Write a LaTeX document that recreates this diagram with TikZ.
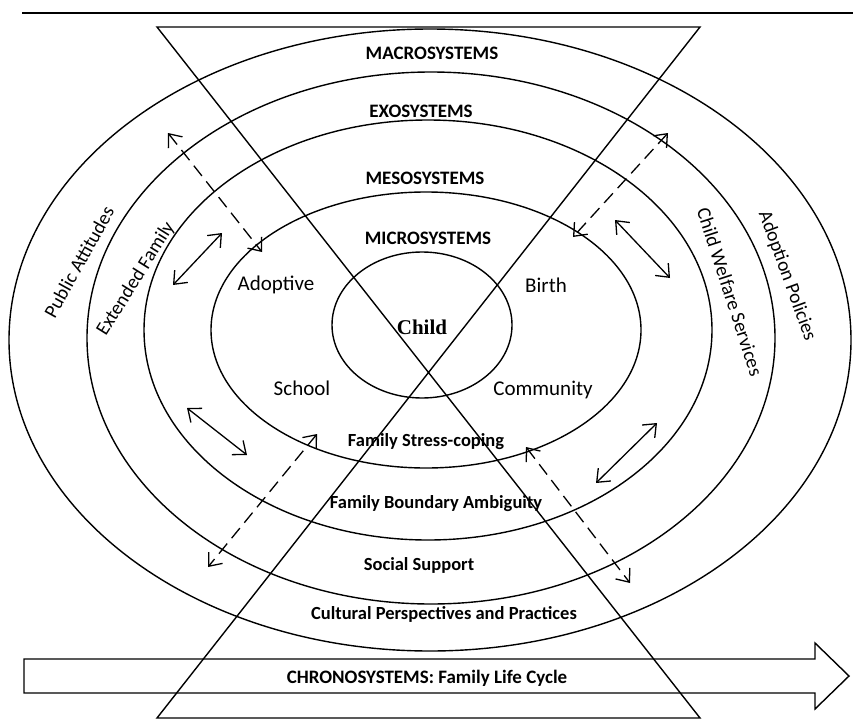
\documentclass[tikz,border=0pt]{standalone}
\usepackage{fontspec}
\setmainfont{Carlito}
\newfontfamily\childfont{Liberation Serif}
\usetikzlibrary{arrows.meta,shapes}

\begin{document}
\begin{tikzpicture}
[x=1pt, y=-1pt, line width=1.4pt, >={Straight Barb[length=11pt,width=18pt]},
ring/.style={draw, ellipse, inner sep=0pt, outer sep=0pt},
sysname/.style={font=\bfseries\fontsize{19}{21}\selectfont},
layer/.style={font=\bfseries\fontsize{18.5}{20}\selectfont},
place/.style={font=\fontsize{21}{24}\selectfont},
side/.style={font=\fontsize{19.5}{22}\selectfont},
link/.style={<->, line width=1.3pt},
dashlink/.style={<->, line width=1.3pt, dash pattern=on 13pt off 7pt}
]
  \useasboundingbox (0,0) rectangle (853,725);
  \fill[white] (0,0) rectangle (853,725);
  \coordinate (ruleL) at (22,13);
  \coordinate (ruleR) at (853,13);
  \draw[line width=1.8pt] (ruleL) -- (ruleR);

  % system rings
  \node[ring, minimum width=842pt, minimum height=622pt] (macro) at (430,340) {};
  \node[ring, minimum width=688pt, minimum height=532pt] (exo)   at (431,338) {};
  \node[ring, minimum width=568pt, minimum height=420pt] (meso)  at (428,330) {};
  \node[ring, minimum width=430pt, minimum height=276pt] (micro) at (426,330) {};
  \node[ring, minimum width=180pt, minimum height=146pt] (child) at (422,325) {};

  % hourglass
  \coordinate (hTL) at (157,27);
  \coordinate (hTR) at (700,27);
  \coordinate (hBL) at (157,718);
  \coordinate (hBR) at (700,718);
  \draw (hTL) -- (hTR) -- (hBL) -- (hBR) -- cycle;

  % time arrow
  \draw (24,659) -- (815,659) -- (815,643) -- (849,676) -- (815,709) -- (815,693) -- (24,693) -- cycle;
  \node[sysname] (chrono) at (427,678) {CHRONOSYSTEMS: Family Life Cycle};

  \node[sysname] (macroname) at (432,53)  {MACROSYSTEMS};
  \node[sysname] (exoname)   at (421,111) {EXOSYSTEMS};
  \node[sysname] (mesoname)  at (425,178) {MESOSYSTEMS};
  \node[sysname] (microname) at (428,238) {MICROSYSTEMS};
  \node[font=\childfont\bfseries\fontsize{21}{24}\selectfont] (childname) at (422,327) {Child};

  \node[place] (adoptive)  at (276,285) {Adoptive};
  \node[place] (birth)     at (546,285) {Birth};
  \node[place] (school)    at (302,388) {School};
  \node[place] (community) at (543,390) {Community};

  \node[layer] (stress)   at (426,442) {Family Stress-coping};
  \node[layer] (boundary) at (436,504) {Family Boundary Ambiguity};
  \node[layer] (social)   at (419,565) {Social Support};
  \node[layer] (cultural) at (444,614) {Cultural Perspectives and Practices};

  \node[side, rotate=61]  (public)   at (79,262)  {Public Attitudes};
  \node[side, rotate=58]  (extended) at (136,279) {Extended Family};
  \node[side, rotate=-72] (welfare)  at (730,292) {Child Welfare Services};
  \node[side, rotate=-70] (policies) at (787,276) {Adoption Policies};

  % links between rings
  \coordinate (l1a) at (173,285); \coordinate (l1b) at (222,233);
  \coordinate (l2a) at (187,408); \coordinate (l2b) at (247,455);
  \coordinate (l3a) at (615,220); \coordinate (l3b) at (670,278);
  \coordinate (l4a) at (657,423); \coordinate (l4b) at (596,483);
  \draw[link] (l1a) -- (l1b);
  \draw[link] (l2a) -- (l2b);
  \draw[link] (l3a) -- (l3b);
  \draw[link] (l4a) -- (l4b);

  \coordinate (d1a) at (168,133); \coordinate (d1b) at (262,252);
  \coordinate (d2a) at (668,133); \coordinate (d2b) at (573,237);
  \coordinate (d3a) at (317,434); \coordinate (d3b) at (208,567);
  \coordinate (d4a) at (526,447); \coordinate (d4b) at (630,583);
  \draw[dashlink] (d1a) -- (d1b);
  \draw[dashlink] (d2a) -- (d2b);
  \draw[dashlink] (d3a) -- (d3b);
  \draw[dashlink] (d4a) -- (d4b);
\end{tikzpicture}
\end{document}
